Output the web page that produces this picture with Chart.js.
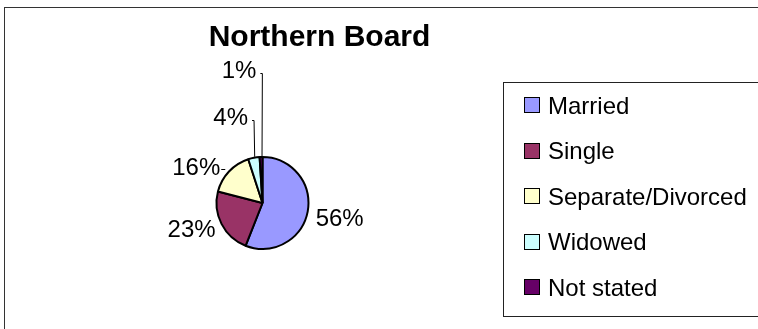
<!DOCTYPE html>
<html>
<head>
<meta charset="utf-8">
<title>Northern Board</title>
<script src="https://cdn.jsdelivr.net/npm/chart.js@4.4.1/dist/chart.umd.min.js"></script>
<style>
  html, body { margin: 0; padding: 0; background: #ffffff; overflow: hidden; }
  #wrap { width: 758px; height: 329px; position: relative; }
  canvas { display: block; }
</style>
</head>
<body>
<div id="wrap"><canvas id="pie" width="758" height="329"></canvas></div>
<script>
// Marital status breakdown, Northern Board (percent of total)
const chartTitle = 'Northern Board';
const categories = ['Married', 'Single', 'Separate/Divorced', 'Widowed', 'Not stated'];
const shares = [56, 23, 16, 4, 1];
const sliceColors = ['#9999FF', '#993366', '#FFFFCC', '#CCFFFF', '#660066'];

// Where each percentage label sits relative to the rim point at its slice's mid-angle,
// and what kind of leader line joins it to the slice.
const labelPlacement = [
  { dx: 31, dy: 14, leader: 'none' },
  { dx: -29, dy: 13, leader: 'none' },
  { dx: -32, dy: 4, leader: 'tick' },
  { dx: -23, dy: -32, leader: 'drop' },
  { dx: -22, dy: -78, leader: 'drop' }
];

const FONT = 'Arial, "Liberation Sans", Helvetica, sans-serif';

// Frame, title and legend box drawn around the pie
const decorations = {
  id: 'decorations',
  beforeDraw(chart) {
    const ctx = chart.ctx;
    ctx.save();
    ctx.fillStyle = '#ffffff';
    ctx.fillRect(0, 0, chart.width, chart.height);

    // outer chart frame (runs off the right and bottom)
    ctx.strokeStyle = '#333333';
    ctx.lineWidth = 1;
    ctx.strokeRect(4.5, 7.5, 900, 500);

    // title
    ctx.fillStyle = '#000000';
    ctx.font = 'bold 30px ' + FONT;
    ctx.textAlign = 'center';
    ctx.textBaseline = 'alphabetic';
    ctx.fillText(chartTitle, 319.5, 46);

    // legend box
    ctx.strokeStyle = '#222222';
    ctx.lineWidth = 1;
    ctx.strokeRect(503.5, 82.5, 400, 234);

    const colors = chart.data.datasets[0].backgroundColor;
    ctx.font = '24px ' + FONT;
    ctx.textAlign = 'left';
    chart.data.labels.forEach((name, i) => {
      const cy = 105 + i * 45.5;
      ctx.fillStyle = colors[i];
      ctx.fillRect(524.5, Math.round(cy) - 7.5, 15, 15);
      ctx.strokeStyle = '#000000';
      ctx.strokeRect(524.5, Math.round(cy) - 7.5, 15, 15);
      ctx.fillStyle = '#000000';
      ctx.textBaseline = 'alphabetic';
      ctx.fillText(name, 548, cy + 8.5);
    });
    ctx.restore();
  }
};

// Percentage labels and leader lines placed from the arc geometry
const sliceLabels = {
  id: 'sliceLabels',
  afterDatasetsDraw(chart) {
    const ctx = chart.ctx;
    const meta = chart.getDatasetMeta(0);
    const values = chart.data.datasets[0].data;
    const total = values.reduce((a, b) => a + b, 0);
    ctx.save();
    ctx.font = '24px ' + FONT;
    ctx.fillStyle = '#000000';
    ctx.strokeStyle = '#000000';
    ctx.lineWidth = 1;
    ctx.textAlign = 'center';
    ctx.textBaseline = 'alphabetic';
    meta.data.forEach((arc, i) => {
      const p = arc.getProps(['x', 'y', 'startAngle', 'endAngle', 'outerRadius'], true);
      const mid = (p.startAngle + p.endAngle) / 2;
      const rim = p.outerRadius + 1;
      const ex = p.x + Math.cos(mid) * rim;
      const ey = p.y + Math.sin(mid) * rim;
      const place = labelPlacement[i];
      const lx = ex + place.dx;
      const ly = ey + place.dy;
      const text = Math.round(values[i] / total * 100) + '%';
      ctx.fillText(text, lx, ly);
      const half = ctx.measureText(text).width / 2;
      const ty = Math.round(ly - 6) + 0.5;
      if (place.leader === 'tick') {
        ctx.beginPath();
        ctx.moveTo(lx + half + 1, ty);
        ctx.lineTo(lx + half + 5, ty);
        ctx.stroke();
      } else if (place.leader === 'drop') {
        const sx = lx + half + 4;
        const lineY = Math.round(ly - 5) + 0.5;
        ctx.beginPath();
        ctx.moveTo(sx, lineY);
        ctx.lineTo(sx + 2, lineY);
        ctx.lineTo(ex + 1, ey);
        ctx.stroke();
      }
    });
    ctx.restore();
  }
};

new Chart(document.getElementById('pie'), {
  type: 'pie',
  data: {
    labels: categories,
    datasets: [{
      data: shares,
      backgroundColor: sliceColors,
      borderColor: '#000000',
      borderWidth: 2,
      hoverBorderWidth: 2,
      radius: 46
    }]
  },
  options: {
    responsive: false,
    animation: false,
    events: [],
    layout: { padding: { left: 212.5, right: 445.5, top: 153, bottom: 76 } },
    plugins: {
      legend: { display: false },
      title: { display: false },
      tooltip: { enabled: false }
    }
  },
  plugins: [decorations, sliceLabels]
});
</script>
</body>
</html>
